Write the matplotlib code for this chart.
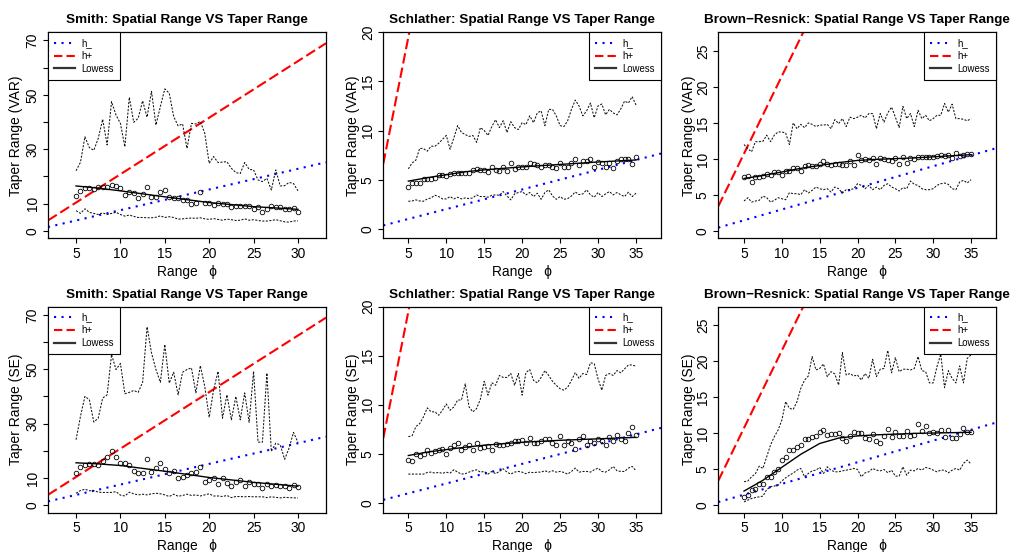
import numpy as np
import matplotlib
matplotlib.use("Agg")
import matplotlib.pyplot as plt
from matplotlib.lines import Line2D

plt.rcParams['font.family'] = ['Liberation Sans', 'DejaVu Sans']

# x grids (spatial range phi)
x_smith = np.arange(5, 30.01, 0.5)
x_other = np.arange(5, 35.01, 0.5)

# ---- Smith, VAR ----
smith_var_pts = [12.9, 14.6, 15.8, 15.8, 15.2, 16.1, 16.1, 16.1, 16.7, 16.6,
                 15.7, 13.1, 14.2, 14.0, 12.0, 13.4, 16.2, 12.3, 12.5, 14.2,
                 15.0, 12.5, 11.9, 12.2, 11.5, 11.3, 9.9, 10.4, 14.2, 10.4,
                 10.2, 9.5, 10.3, 9.7, 9.7, 8.7, 9.2, 9.0, 9.2, 9.0,
                 8.0, 8.8, 6.8, 8.0, 9.1, 8.8, 8.7, 8.0, 8.0, 8.4, 7.0]
smith_var_hi = [22.1, 25.2, 34.6, 30.6, 29.6, 34.0, 41.0, 31.6, 47.5, 42.6,
                39.5, 30.9, 49.1, 39.9, 41.4, 47.8, 41.8, 51.3, 38.9, 45.7,
                52.2, 50.6, 42.0, 38.6, 39.3, 30.3, 39.5, 39.3, 40.2, 35.9,
                24.8, 27.3, 25.1, 25.3, 25.4, 23.0, 21.4, 21.1, 25.1, 22.6,
                22.4, 18.7, 18.1, 19.3, 15.0, 22.4, 16.5, 16.6, 17.8, 17.4, 14.7]
smith_var_lo = [7.4, 6.4, 8.1, 6.8, 6.4, 6.0, 6.6, 6.0, 6.4, 6.8,
                6.0, 5.4, 5.8, 5.3, 4.9, 4.9, 4.8, 4.8, 5.0, 5.5,
                4.9, 5.2, 4.9, 4.3, 4.4, 4.6, 4.7, 4.6, 4.8, 4.4,
                4.2, 4.5, 4.2, 3.9, 4.3, 4.1, 3.8, 3.9, 4.4, 3.9,
                4.1, 3.8, 3.6, 3.6, 3.8, 4.1, 3.7, 3.3, 3.2, 3.6, 3.7]
smith_var_lw_x = [5, 7.5, 10, 15, 20, 25, 30]
smith_var_lw_y = [16.5, 15.7, 14.7, 12.5, 10.4, 8.9, 7.9]

# ---- Smith, SE ----
smith_se_pts = [11.9, 14.0, 14.7, 15.2, 15.2, 14.7, 16.3, 17.7, 20.0, 17.6,
                15.7, 15.5, 14.9, 12.6, 11.8, 11.9, 16.9, 12.4, 13.6, 15.5,
                13.4, 11.8, 12.6, 9.9, 10.3, 11.05, 12.0, 12.2, 14.2, 8.7,
                9.3, 9.9, 7.9, 9.9, 8.1, 6.9, 8.5, 9.3, 7.2, 8.6,
                7.9, 7.9, 6.3, 7.9, 7.2, 7.5, 6.9, 7.2, 6.4, 7.6, 6.6]
smith_se_hi = [24.1, 32.7, 40.0, 38.8, 30.6, 32.0, 39.4, 40.6, 55.4, 49.9,
               52.1, 41.0, 41.5, 42.2, 41.5, 45.2, 65.6, 56.0, 49.9, 45.2,
               59.1, 44.9, 48.9, 40.6, 48.9, 49.9, 50.5, 41.3, 51.3, 43.7,
               32.3, 42.5, 49.2, 32.0, 40.6, 31.4, 40.0, 31.4, 41.3, 30.5,
               49.2, 23.2, 23.2, 48.6, 19.8, 22.8, 22.2, 16.9, 21.0, 26.8, 23.1]
smith_se_lo = [4.4, 5.4, 5.9, 5.3, 5.4, 4.8, 4.7, 4.7, 4.7, 5.0,
               3.7, 3.4, 4.8, 4.2, 3.8, 4.05, 3.8, 4.2, 4.4, 4.2,
               3.8, 3.2, 4.05, 3.3, 3.6, 4.05, 3.6, 3.8, 3.4, 3.8,
               4.2, 3.4, 3.4, 3.2, 3.6, 2.8, 3.2, 3.2, 3.1, 3.2,
               3.1, 3.1, 3.1, 2.8, 3.1, 2.9, 2.7, 2.9, 2.8, 2.7, 2.7]
smith_se_lw_x = [5, 7.5, 10, 15, 20, 25, 30]
smith_se_lw_y = [15.6, 15.2, 14.6, 12.5, 10.2, 8.4, 7.0]

# ---- Schlather, VAR ----
schl_var_pts = [4.23, 4.64, 4.64, 4.64, 5.05, 5.05, 5.05, 5.15, 5.46, 5.43,
                5.36, 5.53, 5.70, 5.63, 5.67, 5.67, 5.67, 5.97, 6.04, 5.97,
                5.94, 5.77, 6.25, 5.97, 5.84, 6.25, 5.84, 6.69, 6.04, 6.25,
                6.25, 6.25, 6.66, 6.55, 6.52, 6.25, 6.48, 6.48, 6.25, 6.18,
                6.66, 6.25, 6.25, 6.66, 7.06, 6.45, 6.86, 6.86, 7.10, 6.25,
                6.79, 6.69, 6.25, 6.69, 6.18, 6.86, 7.10, 7.10, 7.10, 6.59, 7.30]
schl_var_hi = [6.1, 6.7, 7.0, 8.2, 8.15, 7.9, 8.4, 8.4, 8.7, 9.1,
               9.5, 8.1, 9.25, 10.5, 9.8, 9.6, 9.4, 9.5, 8.8, 10.3,
               10.0, 9.5, 10.4, 11.1, 10.3, 11.0, 9.8, 10.9, 10.3, 10.1,
               10.8, 10.6, 11.5, 10.8, 11.8, 12.0, 10.5, 12.15, 12.15, 11.5,
               10.5, 10.4, 11.0, 12.15, 13.1, 12.5, 11.5, 12.0, 12.8, 11.3,
               12.5, 12.7, 11.6, 12.15, 11.8, 11.6, 12.2, 13.0, 12.8, 13.45, 12.6]
schl_var_lo = [2.80, 2.83, 2.94, 2.83, 2.80, 3.04, 3.14, 3.41, 3.28, 3.04,
               3.04, 3.28, 3.04, 3.21, 3.04, 3.14, 3.07, 3.14, 3.45, 3.28,
               3.28, 3.21, 3.41, 3.45, 3.41, 3.79, 3.34, 2.94, 3.55, 3.69,
               3.79, 3.45, 3.69, 3.28, 3.62, 3.00, 3.69, 3.96, 3.34, 3.00,
               3.28, 3.00, 3.07, 3.34, 3.75, 3.48, 3.55, 3.96, 3.45, 3.21,
               3.69, 3.28, 3.55, 3.79, 3.45, 3.69, 3.45, 3.28, 3.72, 3.28, 3.62]
schl_var_lw_x = [5, 7.5, 10, 12.5, 15, 20, 25, 30, 35]
schl_var_lw_y = [4.85, 5.2, 5.5, 5.8, 6.0, 6.3, 6.55, 6.8, 7.0]

# ---- Schlather, SE ----
schl_se_pts = [4.4, 4.25, 5.0, 4.8, 5.0, 5.4, 5.15, 5.3, 5.4, 5.5,
               5.05, 5.6, 5.9, 6.1, 5.4, 5.75, 5.9, 5.4, 6.15, 5.6,
               5.75, 5.85, 5.45, 6.0, 5.95, 5.95, 6.0, 6.15, 6.35, 6.35,
               6.43, 6.1, 6.67, 6.15, 6.15, 6.35, 6.53, 6.53, 6.1, 5.9,
               6.83, 5.9, 6.35, 6.15, 5.5, 6.53, 6.83, 5.9, 6.35, 6.1,
               6.53, 6.35, 5.9, 6.77, 6.35, 6.93, 6.53, 6.35, 7.17, 7.74, 6.93]
schl_se_hi = [6.77, 6.87, 7.8, 8.1, 8.8, 9.7, 9.3, 9.3, 8.95, 9.46,
              10.1, 9.46, 9.8, 10.5, 10.5, 12.15, 9.8, 9.3, 9.63, 10.6,
              12.4, 11.0, 12.25, 12.0, 13.0, 12.8, 12.8, 13.2, 12.0, 13.2,
              11.0, 13.3, 13.6, 12.5, 12.25, 12.8, 13.5, 13.0, 12.4, 12.0,
              11.65, 11.5, 11.8, 12.5, 13.3, 12.7, 13.2, 13.1, 14.3, 14.2,
              12.66, 11.5, 13.0, 13.2, 13.0, 13.5, 13.27, 13.67, 14.07, 14.07, 13.94]
schl_se_lo = [2.96, 2.96, 2.96, 2.96, 2.96, 3.13, 3.16, 3.06, 3.13, 3.03,
              3.16, 3.06, 3.40, 3.16, 2.96, 3.00, 3.16, 3.30, 3.40, 3.16,
              3.23, 2.96, 3.23, 3.00, 3.23, 3.50, 3.16, 2.96, 3.16, 3.23,
              3.16, 3.00, 3.16, 3.10, 3.16, 3.16, 3.30, 3.16, 3.30, 3.16,
              3.23, 3.13, 2.96, 3.23, 3.57, 3.16, 3.23, 3.23, 3.16, 3.40,
              3.57, 3.23, 3.16, 3.40, 3.74, 3.30, 3.23, 3.23, 3.57, 3.74, 3.30]
schl_se_lw_x = [5, 7.5, 10, 12.5, 15, 17.5, 20, 25, 30, 35]
schl_se_lw_y = [4.85, 5.2, 5.45, 5.7, 5.9, 6.05, 6.2, 6.4, 6.55, 6.7]

# ---- Brown-Resnick, VAR ----
br_var_pts = [7.45, 7.64, 6.8, 7.5, 7.5, 7.6, 7.96, 7.73, 8.15, 8.2,
              7.8, 8.3, 8.3, 8.75, 8.8, 8.33, 9.0, 9.1, 9.03, 9.07,
              9.35, 9.7, 9.26, 9.1, 9.35, 9.35, 9.1, 9.2, 9.68, 9.2,
              10.6, 9.9, 10.0, 9.9, 10.2, 9.35, 10.1, 10.05, 9.8, 9.7,
              10.1, 9.35, 10.23, 9.5, 10.1, 10.0, 10.23, 10.28, 10.28, 10.28,
              10.28, 10.4, 10.6, 10.37, 10.5, 10.1, 10.83, 10.37, 10.5, 10.65, 10.74]
br_var_hi = [12.0, 11.4, 11.0, 12.4, 12.4, 12.45, 13.3, 12.4, 13.3, 13.75,
             13.75, 13.6, 12.0, 15.0, 14.2, 14.8, 14.35, 15.0, 14.8, 14.5,
             14.7, 14.7, 14.8, 14.2, 15.46, 14.9, 15.6, 14.5, 15.8, 15.6,
             15.8, 16.06, 15.7, 16.3, 16.3, 14.2, 16.3, 15.1, 16.4, 17.2,
             15.8, 14.35, 17.3, 15.6, 16.3, 14.5, 16.76, 15.6, 16.06, 15.3,
             15.6, 16.06, 16.06, 17.7, 16.5, 17.6, 15.6, 15.6, 15.5, 15.3, 15.6]
br_var_lo = [4.17, 4.63, 4.03, 4.17, 4.26, 4.86, 4.63, 4.03, 4.26, 4.63,
             4.49, 4.35, 5.32, 5.19, 5.19, 5.05, 5.74, 5.28, 5.65, 6.11,
             5.88, 5.74, 5.88, 5.42, 6.11, 5.88, 5.28, 5.74, 5.74, 5.88,
             6.57, 6.34, 5.88, 6.34, 5.74, 6.11, 5.74, 6.34, 6.57, 6.11,
             5.88, 5.56, 6.02, 5.88, 6.94, 6.48, 6.34, 5.88, 5.74, 5.74,
             5.88, 6.34, 6.57, 6.67, 6.48, 5.88, 5.74, 6.81, 7.04, 6.67, 7.13]
br_var_lw_x = [5, 7.5, 10, 12.5, 15, 17.5, 20, 22.5, 25, 27.5, 30, 32.5, 35]
br_var_lw_y = [7.3, 7.7, 8.2, 8.7, 9.1, 9.5, 9.8, 9.95, 10.05, 10.15, 10.3, 10.45, 10.6]

# ---- Brown-Resnick, SE ----
br_se_pts = [1.2, 1.43, 2.13, 2.3, 2.96, 2.96, 3.98, 3.98, 4.58, 5.05,
             6.3, 6.76, 7.7, 7.7, 8.06, 8.4, 9.17, 9.17, 9.44, 9.63,
             10.23, 10.46, 9.77, 9.86, 9.9, 10.0, 9.3, 8.98, 9.63, 10.23,
             10.0, 10.1, 9.3, 9.2, 9.86, 8.98, 8.7, 9.67, 10.55, 9.54,
             10.23, 9.63, 9.63, 10.37, 9.63, 9.77, 11.3, 10.37, 11.06, 10.0,
             10.23, 10.0, 10.46, 9.54, 10.46, 9.4, 9.3, 9.9, 10.7, 10.2, 10.23]
br_se_hi = [3.3, 3.4, 3.98, 4.4, 5.46, 5.14, 6.76, 8.38, 9.54, 10.46,
            11.85, 14.4, 13.47, 13.33, 14.4, 16.25, 17.4, 17.96, 20.65, 18.8,
            19.0, 19.63, 17.87, 18.56, 18.24, 16.7, 21.2, 18.1, 18.3, 17.96,
            18.1, 17.4, 18.3, 17.64, 20.28, 17.87, 18.9, 19.0, 21.5, 18.4,
            20.5, 18.56, 18.9, 18.9, 18.8, 19.0, 20.65, 18.7, 18.56, 17.0,
            17.0, 19.26, 21.0, 16.34, 18.7, 17.64, 17.0, 19.35, 17.0, 20.4, 20.9]
br_se_lo = [0.5, 0.74, 0.97, 1.1, 1.2, 1.3, 2.2, 2.6, 2.7, 2.8,
            3.4, 3.84, 4.2, 4.5, 4.9, 5.14, 3.98, 4.44, 4.8, 4.9,
            5.28, 4.44, 5.37, 4.9, 4.67, 4.67, 4.8, 4.9, 5.0, 5.14,
            5.0, 3.98, 4.53, 4.67, 5.14, 4.9, 4.8, 5.0, 4.53, 4.9,
            4.07, 4.07, 5.37, 4.2, 4.9, 4.8, 5.14, 4.9, 5.28, 5.14,
            4.9, 4.67, 4.9, 4.9, 4.53, 4.9, 5.14, 4.9, 5.83, 6.3, 5.74]
br_se_lw_x = [5, 7.5, 10, 12.5, 15, 17.5, 20, 22.5, 25, 27.5, 30, 32.5, 35]
br_se_lw_y = [2.0, 3.5, 5.3, 7.1, 8.6, 9.35, 9.65, 9.8, 9.9, 10.0, 10.05, 10.1, 10.15]

# reference lines h_ and h+ (slope, intercept)
h_minus = {'Smith': (0.76, 0.0), 'Schlather': (0.2, 0.0), 'Brown\u2212Resnick': (0.3, 0.0)}
h_plus = {'Smith': (2.08, 0.0), 'Schlather': (3.9, 0.0), 'Brown\u2212Resnick': (2.15, 0.0)}

W, H = 1010, 552
fig = plt.figure(figsize=(W / 100, H / 100), dpi=100)

col_left = [48, 383.3, 718.3]
col_w = [278, 277.7, 277.7]
row_top = [32.3, 306.7]
row_h = 206

panels = [
    ('Smith', 'VAR', x_smith, smith_var_pts, smith_var_hi, smith_var_lo, smith_var_lw_x, smith_var_lw_y),
    ('Schlather', 'VAR', x_other, schl_var_pts, schl_var_hi, schl_var_lo, schl_var_lw_x, schl_var_lw_y),
    ('Brown\u2212Resnick', 'VAR', x_other, br_var_pts, br_var_hi, br_var_lo, br_var_lw_x, br_var_lw_y),
    ('Smith', 'SE', x_smith, smith_se_pts, smith_se_hi, smith_se_lo, smith_se_lw_x, smith_se_lw_y),
    ('Schlather', 'SE', x_other, schl_se_pts, schl_se_hi, schl_se_lo, schl_se_lw_x, schl_se_lw_y),
    ('Brown\u2212Resnick', 'SE', x_other, br_se_pts, br_se_hi, br_se_lo, br_se_lw_x, br_se_lw_y),
]

for i, (model, kind, xs, pts, hi, lo, lwx, lwy) in enumerate(panels):
    r, c = divmod(i, 3)
    ax = fig.add_axes([col_left[c] / W, 1 - (row_top[r] + row_h) / H, col_w[c] / W, row_h / H])

    if model == 'Smith':
        ax.set_xlim(1.84, 33.16)
        ax.set_ylim(-2.75, 73.0)
        ax.set_xticks([5, 10, 15, 20, 25, 30])
        ax.set_yticks(range(0, 71, 10))
        ax.set_yticklabels(['0', '10', '', '30', '', '50', '', '70'])
        leg_loc = 'upper left'
    elif model == 'Schlather':
        ax.set_xlim(1.7, 38.3)
        ax.set_ylim(-0.97, 20.0)
        ax.set_xticks(range(5, 36, 5))
        ax.set_yticks(range(0, 21, 5))
        leg_loc = 'upper right'
    else:
        ax.set_xlim(1.6, 38.3)
        ax.set_ylim(-1.0, 27.57)
        ax.set_xticks(range(5, 36, 5))
        ax.set_yticks(range(0, 26, 5))
        leg_loc = 'upper right'

    s, b = h_minus[model]
    ax.axline((0, b), slope=s, color='blue', lw=1.5, linestyle=(0, (1, 2.6)))
    s, b = h_plus[model]
    ax.axline((0, b), slope=s, color='red', lw=1.5, linestyle=(0, (5, 2)))

    ax.plot(xs, hi, color='#111111', lw=0.75, linestyle=(0, (2, 1.4)))
    ax.plot(xs, lo, color='#111111', lw=0.75, linestyle=(0, (2, 1.4)))
    ax.plot(xs, pts, 'o', mfc='none', mec='black', ms=3.3, mew=0.6)
    ax.plot(lwx, lwy, color='black', lw=1.0)

    for sp in ax.spines.values():
        sp.set_linewidth(0.9)
    ax.tick_params(direction='out', length=3.6, width=0.8, labelsize=9.9, pad=2.5)
    for lab in ax.get_yticklabels():
        lab.set_rotation(90)
        lab.set_va('center')

    ax.set_title('%s: Spatial Range VS Taper Range' % model, fontsize=9.7,
                 fontweight='bold', pad=6.5)
    ax.set_xlabel('Range   \u03d5', fontsize=9.9, va='center')
    ax.xaxis.set_label_coords(0.5, -33.5 / row_h)
    ax.set_ylabel('Taper Range (%s)' % kind, fontsize=10, va='center')
    ax.yaxis.set_label_coords(-(col_left[c] - 336.7 * c - 16) / col_w[c], 0.5)

    handles = [Line2D([], [], color='blue', lw=1.5, linestyle=(0, (1, 2.6))),
               Line2D([], [], color='red', lw=1.5, linestyle=(0, (4, 2))),
               Line2D([], [], color='#333333', lw=1.6)]
    leg = ax.legend(handles, ['h_', 'h+', 'Lowess'], loc=leg_loc, borderaxespad=0,
                    fontsize=6.9, handlelength=2.2, handletextpad=0.7,
                    borderpad=0.6, labelspacing=0.3, fancybox=False,
                    framealpha=1, edgecolor='black')
    leg.get_frame().set_linewidth(0.8)

fig.savefig('out.png', dpi=100, facecolor='white')
